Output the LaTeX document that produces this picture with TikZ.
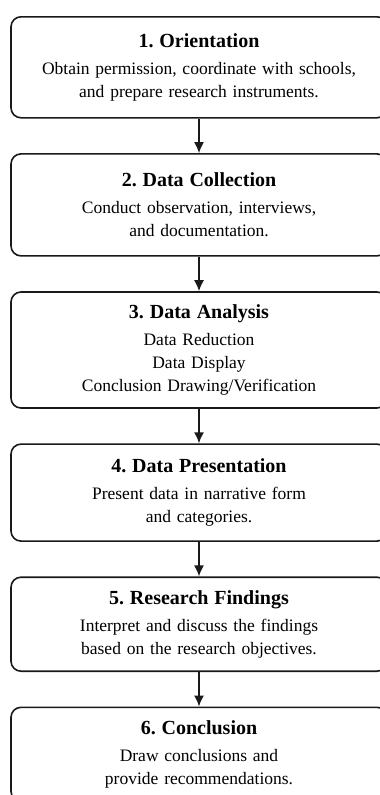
\documentclass[tikz,border=0pt]{standalone}
\usepackage{fontspec}
\setmainfont{Liberation Serif}
\usepackage{tikz}
\usetikzlibrary{positioning,arrows.meta}
\frenchspacing

\begin{document}
\begin{tikzpicture}[
  x=1pt, y=1pt,
  every node/.style={font=\fontsize{17.5}{23}\selectfont},
  phase/.style={draw=black!90, line width=1.6pt, rounded corners=10pt, fill=white,
    minimum width=376pt, text width=370pt, align=center, inner sep=0pt},
  flow/.style={-{Latex[length=11pt,width=10pt]}, line width=1.5pt, draw=black!90},
  node distance=34.5pt
]
\newcommand{\ttl}[1]{{\fontsize{20}{23}\selectfont\bfseries #1}\\[4pt]}
\useasboundingbox (0,0) rectangle (380,-795);

\node[phase, minimum height=101pt, anchor=north] (p1) at (199,-16)
  {\ttl{1. Orientation}Obtain permission, coordinate with schools,\\and prepare research instruments.};
\node[phase, minimum height=102pt, below=of p1] (p2)
  {\ttl{2. Data Collection}Conduct observation, interviews,\\and documentation.};
\node[phase, minimum height=116pt, below=of p2] (p3)
  {\ttl{3. Data Analysis}Data Reduction\\Data Display\\Conclusion Drawing/Verification};
\node[phase, minimum height=97pt, below=of p3] (p4)
  {\ttl{4. Data Presentation}Present data in narrative form\\and categories.};
\node[phase, minimum height=94pt, below=of p4] (p5)
  {\ttl{5. Research Findings}Interpret and discuss the findings\\based on the research objectives.};
\node[phase, minimum height=94pt, below=of p5] (p6)
  {\ttl{6. Conclusion}Draw conclusions and\\provide recommendations.};

\foreach \a/\b in {p1/p2,p2/p3,p3/p4,p4/p5,p5/p6}
  \draw[flow] (\a) -- (\b);
\end{tikzpicture}
\end{document}
